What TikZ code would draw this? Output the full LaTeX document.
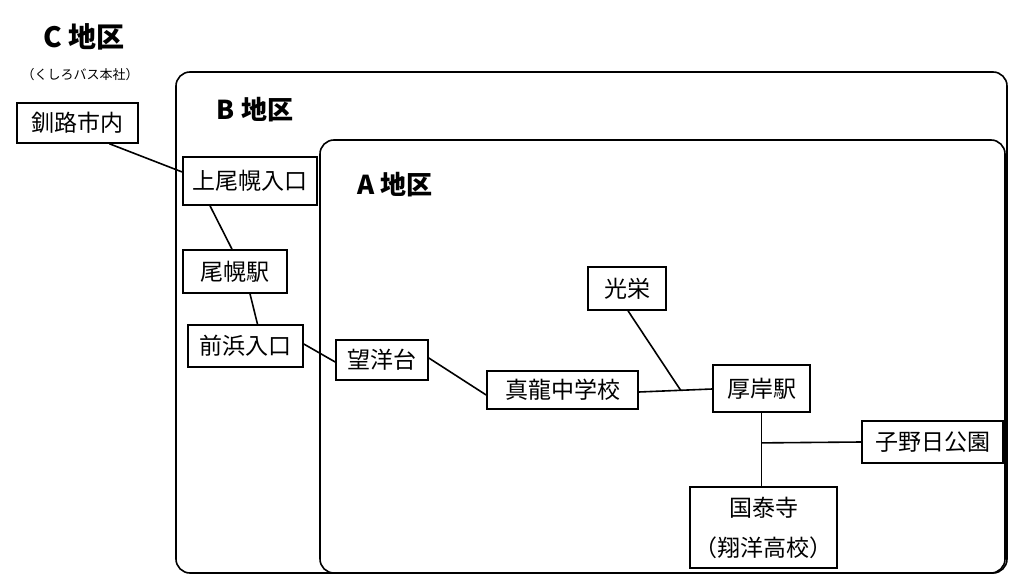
\documentclass[tikz,border=0pt]{standalone}
\usepackage{fontspec}
\setmainfont{Noto Sans CJK JP}
\begin{document}
\begin{tikzpicture}[x=1pt,y=-1pt,
  bx/.style={draw,line width=1.6pt,inner sep=0pt,font=\fontsize{23}{27}\selectfont},
  ln/.style={line width=1.6pt},
  rg/.style={draw,line width=1.6pt,rounded corners=14pt}]
\useasboundingbox (0,0) rectangle (1024,585);
\draw[rg] (176,72) rectangle (1007,573);
\draw[rg] (320,140) rectangle (1005,573);
\node[font=\fontsize{28}{32}\selectfont\bfseries] (c) at (84,37) {C 地区};
\node[font=\fontsize{13}{15}\selectfont] (cs) at (80,75) {（くしろバス本社）};
\node[font=\fontsize{26}{30}\selectfont\bfseries] (b) at (255,110) {B 地区};
\node[font=\fontsize{26}{30}\selectfont\bfseries] (a) at (395,185) {A 地区};
\node[bx,minimum width=121pt,minimum height=40pt] (kushiro) at (77.5,123) {釧路市内};
\node[bx,minimum width=134pt,minimum height=48pt] (kamioboro) at (250,181) {上尾幌入口};
\node[bx,minimum width=104pt,minimum height=43pt] (oboro) at (235,271.5) {尾幌駅};
\node[bx,minimum width=115pt,minimum height=42pt] (maehama) at (245.5,346) {前浜入口};
\node[bx,minimum width=92pt,minimum height=40pt] (boyo) at (382,360) {望洋台};
\node[bx,minimum width=151pt,minimum height=38pt] (shinryu) at (562.5,390) {真龍中学校};
\node[bx,minimum width=78pt,minimum height=43pt] (koei) at (627,288.5) {光栄};
\node[bx,minimum width=97pt,minimum height=47pt] (akkeshi) at (761.5,388.5) {厚岸駅};
\node[bx,minimum width=141pt,minimum height=42pt] (nenohi) at (932.5,442) {子野日公園};
\node[bx,minimum width=147pt,minimum height=81pt,align=center,font=\fontsize{23}{40}\selectfont] (kokutai) at (763.5,527.5) {国泰寺\\（翔洋高校）};
\draw[ln] (kushiro.south) ++(32,0) coordinate (k1) -- (kamioboro.west |- 0,172);
\draw[ln] ([xshift=-40pt]kamioboro.south) -- ([xshift=-3pt]oboro.north);
\draw[ln] ([xshift=15pt]oboro.south) -- ([xshift=12pt]maehama.north);
\draw[ln] ([yshift=2pt]maehama.east) -- ([yshift=-2pt]boyo.west);
\draw[ln] ([yshift=2pt]boyo.east) -- ([yshift=-5pt]shinryu.west);
\draw[ln] ([yshift=-2pt]shinryu.east) -- coordinate[pos=0.57] (j) ([yshift=-0.5pt]akkeshi.west);
\draw[ln] ([xshift=1pt]koei.south) -- (j);
\draw[ln] (akkeshi.south) -- coordinate[pos=0.41] (j2) (akkeshi.south |- kokutai.north);
\draw[ln] (j2) -- (nenohi.west);
\end{tikzpicture}
\end{document}
